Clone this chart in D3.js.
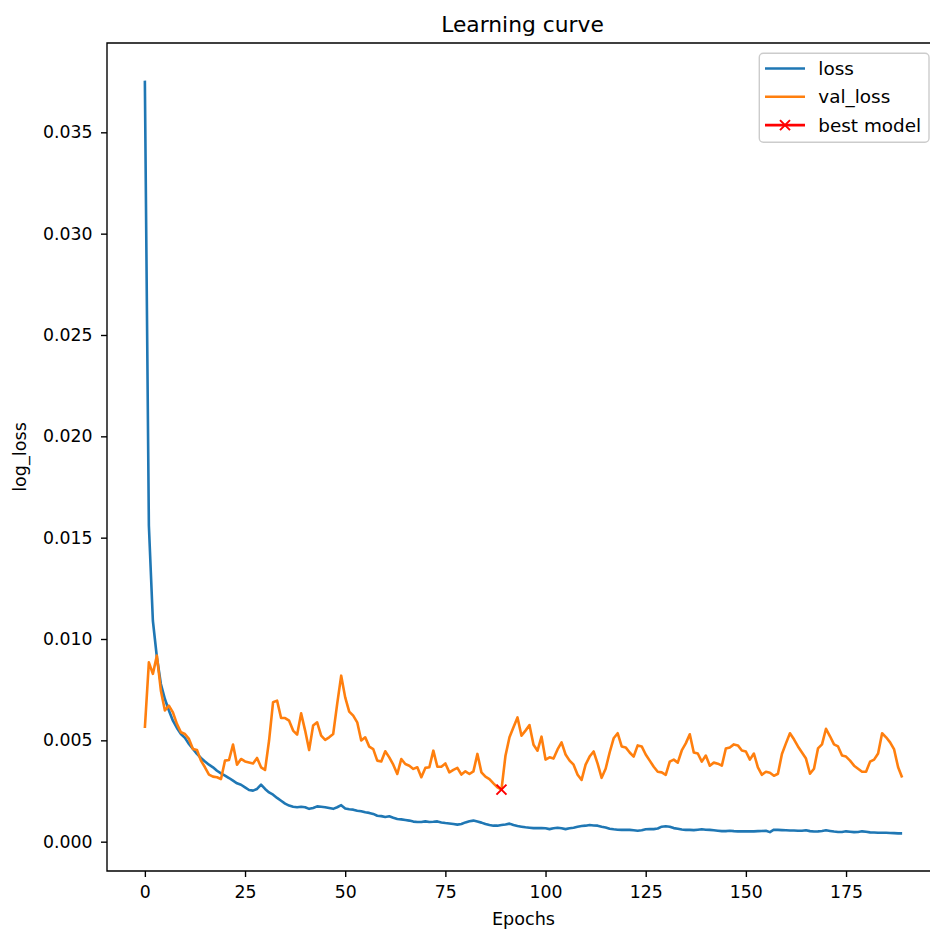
<!DOCTYPE html>
<html>
<head>
<meta charset="utf-8">
<script src="https://cdn.jsdelivr.net/npm/d3@7"></script>
<style>
  body { margin: 0; background: #fff; overflow: hidden; }
  svg { display: block; overflow: hidden; }
  text { font-family: "DejaVu Sans", sans-serif; fill: #000; }
</style>
</head>
<body>
<svg id="chart" width="930" height="931"></svg>
<script>
// training loss per epoch
const loss = [
  0.03755, 0.0156, 0.0109, 0.0091, 0.00778, 0.00704, 0.00647, 0.00597, 0.00561, 0.00531,
  0.00512, 0.00482, 0.00457, 0.00433, 0.00413, 0.00396, 0.0038, 0.00367, 0.0035, 0.00337,
  0.00326, 0.00314, 0.00301, 0.00288, 0.00281, 0.00268, 0.00255, 0.00252, 0.0026, 0.00281,
  0.0026, 0.00243, 0.00232, 0.00216, 0.00202, 0.00188, 0.00178, 0.00172, 0.0017, 0.00172,
  0.0017, 0.00162, 0.00166, 0.00174, 0.00172, 0.0017, 0.00166, 0.00162, 0.0017, 0.0018,
  0.00164, 0.0016, 0.00158, 0.00153, 0.0015, 0.00145, 0.00142, 0.00137, 0.00128, 0.00126,
  0.00122, 0.00125, 0.00118, 0.00112, 0.0011, 0.00107, 0.00104, 0.00099, 0.00097, 0.00097,
  0.001, 0.00097, 0.00098, 0.001, 0.00095, 0.00092, 0.0009, 0.00087, 0.00084, 0.00087,
  0.00095, 0.00101, 0.00104, 0.00099, 0.00094, 0.00087, 0.00082, 0.00079, 0.00079, 0.00082,
  0.00085, 0.00089, 0.00082, 0.00077, 0.00074, 0.00071, 0.00069, 0.00067, 0.00067, 0.00067,
  0.00066, 0.00062, 0.00066, 0.00069, 0.00066, 0.00062, 0.00066, 0.00069, 0.00074, 0.00077,
  0.00079, 0.00082, 0.0008, 0.00079, 0.00074, 0.0007, 0.00064, 0.00061, 0.00059, 0.00058,
  0.00058, 0.00058, 0.00056, 0.00054, 0.00056, 0.00061, 0.00062, 0.00062, 0.00065, 0.00074,
  0.00076, 0.00074, 0.00067, 0.00064, 0.0006, 0.00058, 0.00058, 0.00057, 0.00059, 0.00061,
  0.00059, 0.00058, 0.00056, 0.00054, 0.00052, 0.00052, 0.00054, 0.00052, 0.00051, 0.00051,
  0.00051, 0.00051, 0.00051, 0.00052, 0.00053, 0.00054, 0.00047, 0.00059, 0.00058, 0.00057,
  0.00056, 0.00055, 0.00055, 0.00054, 0.00054, 0.00056, 0.00052, 0.0005, 0.00051, 0.00053,
  0.00056, 0.00053, 0.0005, 0.00048, 0.00048, 0.00051, 0.00049, 0.00047, 0.00048, 0.00051,
  0.00049, 0.00046, 0.00045, 0.00044, 0.00044, 0.00044, 0.00043, 0.00042, 0.00041, 0.00041
];

// validation loss per epoch
const valLoss = [
  0.00561, 0.00885, 0.00828, 0.00918, 0.00745, 0.00647, 0.00671, 0.00638, 0.00581, 0.0054,
  0.00531, 0.00507, 0.00457, 0.00452, 0.004, 0.00367, 0.00331, 0.00321, 0.00318, 0.00309,
  0.004, 0.00403, 0.00479, 0.0038, 0.00408, 0.00396, 0.00391, 0.00386, 0.00413, 0.00367,
  0.00354, 0.00499, 0.00688, 0.00696, 0.0061, 0.0061, 0.00597, 0.00548, 0.00528, 0.00633,
  0.00548, 0.00452, 0.00573, 0.00589, 0.00523, 0.00502, 0.00515, 0.00531, 0.0068, 0.00819,
  0.00712, 0.00642, 0.00622, 0.00589, 0.00499, 0.00515, 0.00469, 0.00457, 0.004, 0.00396,
  0.00446, 0.00416, 0.0038, 0.00334, 0.00408, 0.00383, 0.00375, 0.00359, 0.00367, 0.00318,
  0.00364, 0.00367, 0.00449, 0.0037, 0.0037, 0.00386, 0.00342, 0.00354, 0.00364, 0.00331,
  0.00347, 0.00334, 0.00347, 0.00433, 0.00342, 0.00321, 0.00309, 0.00288, 0.00268, 0.00257,
  0.00424, 0.00515, 0.00565, 0.00613, 0.00523, 0.00548, 0.00575, 0.00478, 0.00449, 0.00518,
  0.00405, 0.00416, 0.0041, 0.00455, 0.0049, 0.0043, 0.004, 0.0038, 0.0033, 0.00305,
  0.0038, 0.0042, 0.00445, 0.00385, 0.00315, 0.0036, 0.0044, 0.0051, 0.00535, 0.0047,
  0.00465, 0.0044, 0.0042, 0.00475, 0.0047, 0.0043, 0.004, 0.0037, 0.00345, 0.00342,
  0.0033, 0.00395, 0.00405, 0.0039, 0.0045, 0.00485, 0.0053, 0.0044, 0.00435, 0.00395,
  0.00425, 0.00375, 0.0039, 0.00385, 0.00375, 0.0046, 0.00465, 0.0048, 0.00475, 0.0045,
  0.00445, 0.00405, 0.00435, 0.00367, 0.0033, 0.00345, 0.0034, 0.00325, 0.00335, 0.00433,
  0.00485, 0.00535, 0.00505, 0.0047, 0.0044, 0.0041, 0.00335, 0.0036, 0.0046, 0.0048,
  0.00557, 0.0052, 0.0048, 0.0047, 0.00425, 0.0042, 0.004, 0.00375, 0.0036, 0.00345,
  0.00345, 0.00395, 0.00405, 0.00435, 0.00535, 0.00515, 0.0049, 0.00455, 0.00367, 0.00317
];

const xTicks = [0, 25, 50, 75, 100, 125, 150, 175];
const yTicks = [0, 0.005, 0.01, 0.015, 0.02, 0.025, 0.03, 0.035];
const seriesNames = ["loss", "val_loss", "best model"];
const seriesColors = ["#1f77b4", "#ff7f0e", "#ff0000"];

// axes box, in pixels (right edge falls just past the picture like the original)
const ax = {left: 107, right: 940, top: 43, bottom: 871};
const fs = 17.3;

const svg = d3.select("#chart");

const epochs = d3.range(loss.length);
const bestIdx = d3.minIndex(valLoss);

// matplotlib style 5% margins
const xPad = (epochs.length - 1) * 0.05;
const x = d3.scaleLinear([-xPad, epochs.length - 1 + xPad], [ax.left, ax.right]);
const yExt = d3.extent(loss.concat(valLoss));
const yPad = (yExt[1] - yExt[0]) * 0.05;
const y = d3.scaleLinear([yExt[0] - yPad, yExt[1] + yPad], [ax.bottom, ax.top]);

svg.append("defs").append("clipPath").attr("id", "plotClip")
  .append("rect")
    .attr("x", ax.left).attr("y", ax.top)
    .attr("width", ax.right - ax.left).attr("height", ax.bottom - ax.top);

const plot = svg.append("g").attr("clip-path", "url(#plotClip)");

const line = d3.line().x((d, i) => x(i)).y(d => y(d));

plot.append("path")
  .datum(loss)
  .attr("d", line)
  .attr("fill", "none")
  .attr("stroke", seriesColors[0])
  .attr("stroke-width", 2.6)
  .attr("stroke-linejoin", "round");

plot.append("path")
  .datum(valLoss)
  .attr("d", line)
  .attr("fill", "none")
  .attr("stroke", seriesColors[1])
  .attr("stroke-width", 2.6)
  .attr("stroke-linejoin", "round");

// "x" marker path
function crossPath(cx, cy, r) {
  return `M${cx - r},${cy - r}L${cx + r},${cy + r}M${cx - r},${cy + r}L${cx + r},${cy - r}`;
}

plot.append("path")
  .attr("d", crossPath(x(bestIdx), y(valLoss[bestIdx]), 5))
  .attr("stroke", seriesColors[2])
  .attr("stroke-width", 2)
  .attr("fill", "none");

// axes
const xAxis = svg.append("g")
  .attr("transform", `translate(0,${ax.bottom})`)
  .call(d3.axisBottom(x).tickValues(xTicks).tickSize(6).tickPadding(8.7).tickFormat(d3.format("d")));
const yAxis = svg.append("g")
  .attr("transform", `translate(${ax.left},0)`)
  .call(d3.axisLeft(y).tickValues(yTicks).tickSize(6).tickPadding(8.5).tickFormat(d3.format(".3f")));

[xAxis, yAxis].forEach(g => {
  g.select(".domain").remove();
  g.selectAll(".tick line").attr("stroke", "#000").attr("stroke-width", 1.38);
  g.selectAll(".tick text")
    .attr("font-family", "DejaVu Sans")
    .attr("font-size", fs)
    .attr("fill", "#000");
});

// spines (the right one sits outside the picture)
svg.append("path")
  .attr("d", `M${ax.right},${ax.top}H${ax.left}V${ax.bottom}H${ax.right}`)
  .attr("fill", "none")
  .attr("stroke", "#000")
  .attr("stroke-width", 1.38);

// titles
const midX = (ax.left + ax.right) / 2;
svg.append("text")
  .attr("x", 522.5).attr("y", 32.3)
  .attr("text-anchor", "middle")
  .attr("font-size", 21.8)
  .text("Learning curve");

svg.append("text")
  .attr("x", midX).attr("y", 925)
  .attr("text-anchor", "middle")
  .attr("font-size", 17.6)
  .text("Epochs");

svg.append("text")
  .attr("transform", `translate(26,${(ax.top + ax.bottom) / 2}) rotate(-90)`)
  .attr("text-anchor", "middle")
  .attr("font-size", 17.6)
  .text("log_loss");

// legend
const legend = svg.append("g");
legend.append("rect")
  .attr("x", 759.3).attr("y", 53.3)
  .attr("width", 169.7).attr("height", 89)
  .attr("rx", 4)
  .attr("fill", "#fff").attr("fill-opacity", 0.8)
  .attr("stroke", "#cccccc").attr("stroke-width", 1.4);

seriesNames.forEach((name, i) => {
  const ly = 68.5 + i * 28.3;
  legend.append("line")
    .attr("x1", 765).attr("x2", 805)
    .attr("y1", ly).attr("y2", ly)
    .attr("stroke", seriesColors[i])
    .attr("stroke-width", 2.6);
  if (i === 2) {
    legend.append("path")
      .attr("d", crossPath(785, ly, 5))
      .attr("stroke", seriesColors[i])
      .attr("stroke-width", 2)
      .attr("fill", "none");
  }
  legend.append("text")
    .attr("x", 818.3).attr("y", ly + 6.5)
    .attr("font-size", 18.4)
    .text(name);
});
</script>
</body>
</html>
